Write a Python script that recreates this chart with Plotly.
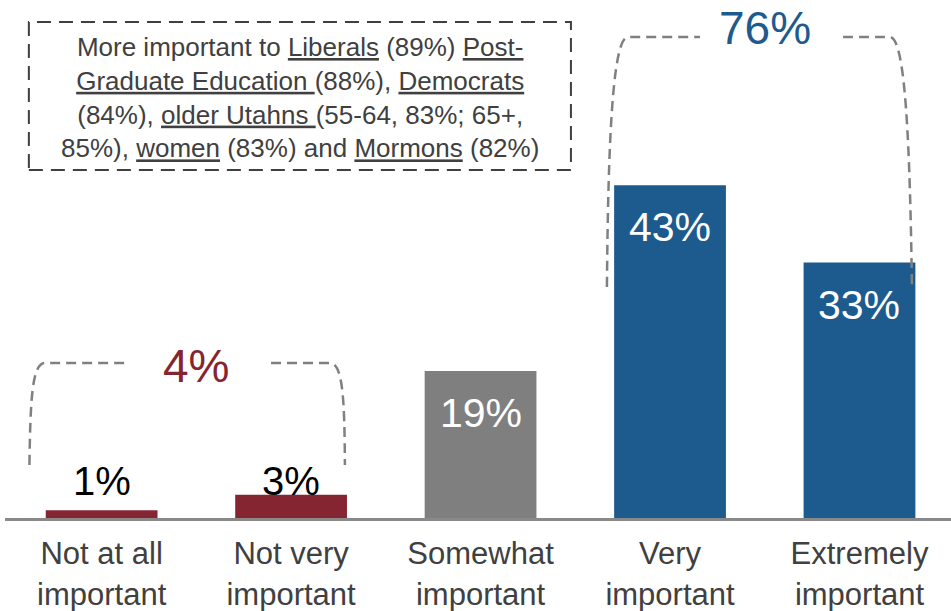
import plotly.graph_objects as go

categories = ["Not at all<br>important", "Not very<br>important", "Somewhat<br>important",
              "Very<br>important", "Extremely<br>important"]
values = [1, 3, 19, 43, 33]
value_labels = ["1%", "3%", "19%", "43%", "33%"]
bar_colors = ["#862532", "#862532", "#7f7f7f", "#1d5a8e", "#1d5a8e"]
group_labels = ["4%", "76%"]
note_text = ("More important to <u>Liberals</u> (89%) <u>Post-</u><br>"
             "<u>Graduate Education </u>(88%), <u>Democrats</u><br>"
             "(84%), <u>older Utahns </u>(55-64, 83%; 65+,<br>"
             "85%), <u>women</u> (83%) and <u>Mormons</u> (82%)")

FONT = "Arial, Liberation Sans, sans-serif"
RED = "#862532"
BLUE = "#1d5a8e"
GREY_DASH = "#808080"

xs = list(range(len(categories)))

fig = go.Figure()
fig.add_trace(go.Bar(x=xs, y=values, marker=dict(color=bar_colors, line=dict(width=0)),
                     width=0.59, hoverinfo="skip"))

annotations = []
# value labels
for i, (v, lab) in enumerate(zip(values, value_labels)):
    if v < 10:
        annotations.append(dict(x=i, y=4.8, text=lab, showarrow=False, xref="x", yref="y",
                                font=dict(family=FONT, size=40, color="#000000"),
                                yanchor="middle"))
    else:
        annotations.append(dict(x=i, y=v, text=lab, showarrow=False, xref="x", yref="y",
                                font=dict(family=FONT, size=41, color="#ffffff"),
                                yanchor="middle", yshift=-42))

# group totals
annotations.append(dict(x=0.5, y=(518 - 366) / 7.74, text=group_labels[0], showarrow=False,
                        xref="x", yref="y", font=dict(family=FONT, size=46, color=RED)))
annotations.append(dict(x=3.5, y=(518 - 28) / 7.74, text=group_labels[1], showarrow=False,
                        xref="x", yref="y", font=dict(family=FONT, size=46, color=BLUE)))

# note
annotations.append(dict(x=1.047, y=54.3, text=note_text, showarrow=False, xref="x", yref="y",
                        align="center", font=dict(family=FONT, size=26, color="#404040")))

dash_line = dict(color=GREY_DASH, width=2.5, dash="10px,6px")
shapes = [
    # red bracket
    dict(type="path", xref="x", yref="y", line=dash_line,
         path="M -0.381 6.85 C -0.376 15.25, -0.368 20.03, -0.299 20.03 L 0.123 20.03"),
    dict(type="path", xref="x", yref="y", line=dash_line,
         path="M 0.894 20.03 L 1.205 20.03 C 1.274 20.03, 1.282 15.25, 1.284 6.85"),
    # blue bracket
    dict(type="path", xref="x", yref="y", line=dash_line,
         path="M 2.667 29.84 C 2.673 47.55, 2.694 62.14, 2.778 62.14 L 3.158 62.14"),
    dict(type="path", xref="x", yref="y", line=dash_line,
         path="M 3.913 62.14 L 4.161 62.14 C 4.245 62.14, 4.266 47.55, 4.277 29.84"),
    # note box
    dict(type="rect", xref="x", yref="y", x0=-0.384, x1=2.477, y0=44.96, y1=64.08,
         line=dict(color="#404040", width=2, dash="14px,8px"), fillcolor="rgba(0,0,0,0)"),
]

fig.update_layout(
    width=951, height=611,
    margin=dict(l=5, r=0, t=0, b=93, autoexpand=False),
    paper_bgcolor="white", plot_bgcolor="white",
    showlegend=False,
    annotations=annotations,
    shapes=shapes,
    xaxis=dict(range=[-0.51, 4.483], tickmode="array", tickvals=xs, ticktext=categories,
               showgrid=False, zeroline=False, showline=True, linecolor="#898989", linewidth=3,
               ticks="", ticklabelstandoff=6, automargin=False,
               tickfont=dict(family=FONT, size=31, color="#404040"), fixedrange=True),
    yaxis=dict(range=[0, 66.93], visible=False, showgrid=False, zeroline=False, fixedrange=True,
               automargin=False),
)

fig.write_html("out.html", config={"displayModeBar": False},
               post_script="document.body.style.margin='0';document.body.style.overflow='hidden';")
